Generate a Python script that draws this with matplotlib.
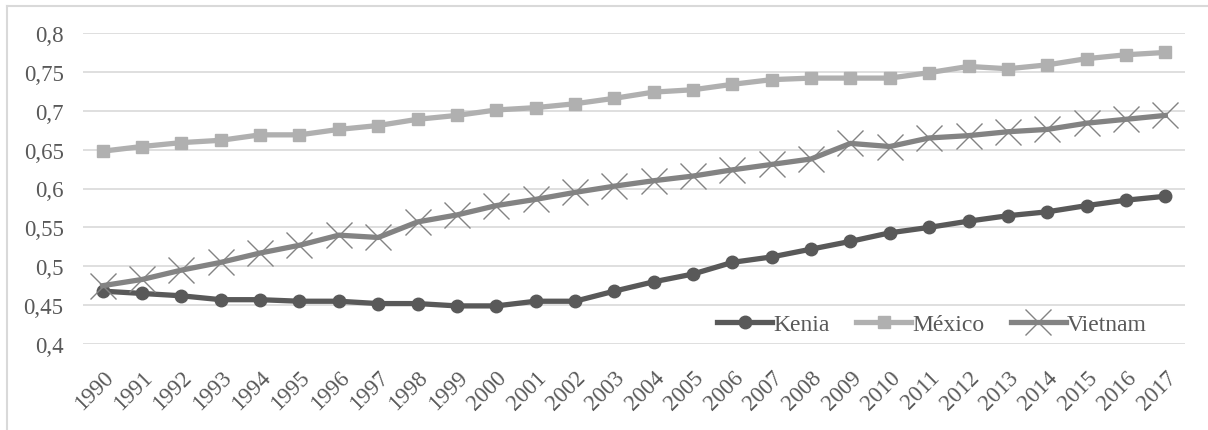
import matplotlib
matplotlib.use("Agg")
import matplotlib.pyplot as plt
from matplotlib.ticker import FixedLocator, FuncFormatter

years = list(range(1990, 2018))
kenia = [0.468, 0.465, 0.462, 0.457, 0.457, 0.455, 0.455, 0.452, 0.452, 0.449,
         0.449, 0.455, 0.455, 0.468, 0.480, 0.490, 0.505, 0.512, 0.522, 0.532,
         0.543, 0.550, 0.558, 0.565, 0.570, 0.578, 0.585, 0.590]
mexico = [0.648, 0.654, 0.659, 0.662, 0.669, 0.669, 0.676, 0.681, 0.689, 0.694,
          0.701, 0.704, 0.709, 0.716, 0.724, 0.727, 0.734, 0.740, 0.742, 0.742,
          0.742, 0.749, 0.757, 0.754, 0.759, 0.767, 0.772, 0.775]
vietnam = [0.475, 0.483, 0.495, 0.505, 0.517, 0.527, 0.540, 0.537, 0.557, 0.566,
           0.578, 0.586, 0.595, 0.603, 0.610, 0.616, 0.624, 0.631, 0.638, 0.658,
           0.654, 0.665, 0.668, 0.673, 0.676, 0.684, 0.689, 0.694]
series_names = ["Kenia", "México", "Vietnam"]
yticks = [0.4, 0.45, 0.5, 0.55, 0.6, 0.65, 0.7, 0.75, 0.8]

plt.rcParams['font.family'] = ['Liberation Serif', 'DejaVu Serif']

W, H = 1208, 431
fig = plt.figure(figsize=(W / 100, H / 100), dpi=100)
fig.patch.set_facecolor('white')

# outer chart border (top and left visible)
fig.add_artist(plt.Line2D([7 / W, 1.0], [1 - 7 / H, 1 - 7 / H], transform=fig.transFigure,
                          color='#d9d9d9', lw=1.5))
fig.add_artist(plt.Line2D([7 / W, 7 / W], [0, 1 - 7 / H], transform=fig.transFigure,
                          color='#d9d9d9', lw=1.5))

left, right = 83, 1185
top, bottom = 34, 345
ax = fig.add_axes([left / W, 1 - bottom / H, (right - left) / W, (bottom - top) / H])

x = list(range(len(years)))
ax.plot(x, kenia, color='#595959', lw=3.8, marker='o', ms=9, label=series_names[0], zorder=3)
ax.plot(x, mexico, color='#b0b0b0', lw=3.8, marker='s', ms=9, label=series_names[1], zorder=3)
ax.plot(x, vietnam, color='#838383', lw=3.8, marker='x', ms=19, mew=1.0, label=series_names[2], zorder=3)

ax.set_xlim(-0.5, len(years) - 0.5)
ax.set_ylim(0.4, 0.8)
ax.yaxis.set_major_locator(FixedLocator(yticks))
ax.yaxis.set_major_formatter(FuncFormatter(lambda v, p: ('%g' % round(v, 2)).replace('.', ',')))
ax.set_xticks(x)
ax.set_xticklabels([str(y) for y in years], rotation=45, ha='right', rotation_mode='anchor')
ax.grid(axis='y', color='#d9d9d9', lw=1.2)
ax.set_axisbelow(True)
for s in ax.spines.values():
    s.set_visible(False)
ax.tick_params(axis='both', length=0, labelsize=16.5, colors='#595959')
ax.tick_params(axis='y', pad=14)
ax.tick_params(axis='x', pad=16)

leg = ax.legend(loc='center', bbox_to_anchor=((932 - left) / (right - left), (bottom - 325) / (bottom - top)),
                ncol=3, frameon=False, fontsize=17, handlelength=2.3, handletextpad=0.05,
                columnspacing=1.15, borderpad=0)
for t in leg.get_texts():
    t.set_color('#595959')

fig.savefig('out.png', dpi=100, facecolor='white')
